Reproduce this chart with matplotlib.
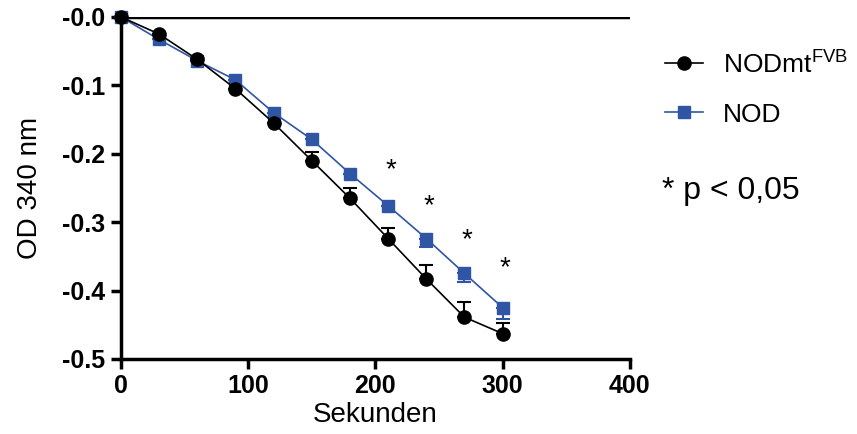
import numpy as np
import matplotlib.pyplot as plt

plt.rcParams['font.family'] = ['Liberation Sans', 'DejaVu Sans']

sek = [0, 30, 60, 90, 120, 150, 180, 210, 240, 270, 300]
od_mt = [0.0, -0.025, -0.062, -0.105, -0.155, -0.21, -0.265, -0.324, -0.383, -0.439, -0.463]
err_mt = [0, 0, 0, 0, 0, 0.012, 0.015, 0.016, 0.02, 0.022, 0.016]
od_nod = [0.0, -0.033, -0.064, -0.092, -0.14, -0.179, -0.229, -0.276, -0.324, -0.375, -0.425]
err_nod = [0, 0, 0, 0, 0, 0, 0, 0, 0.012, 0.013, 0.016]
sig_x = [210, 240, 270, 300]
sig_y = [-0.224, -0.276, -0.327, -0.368]

blue = '#2F55A4'

fig = plt.figure(figsize=(8.57, 4.34), dpi=100)
ax = fig.add_axes([0.141, 0.173, 0.594, 0.788])

# fehlerbalken: schwarz nach oben, blau nach unten
ax.errorbar(sek, od_mt, yerr=[np.zeros(len(err_mt)), err_mt], fmt='none',
            ecolor='black', elinewidth=1.5, capsize=5, capthick=1.5, clip_on=False)
ax.errorbar(sek, od_nod, yerr=[err_nod, np.zeros(len(err_nod))], fmt='none',
            ecolor=blue, elinewidth=1.5, capsize=5, capthick=1.5, clip_on=False)

ax.plot(sek, od_mt, '-o', color='black', lw=1.2, ms=9.5, clip_on=False, zorder=4,
        label='NODmt$^{\\mathregular{FVB}}$')
ax.plot(sek, od_nod, '-s', color=blue, mfc=blue, mec=blue, lw=1.2, ms=9,
        clip_on=False, zorder=3, label='NOD')

ax.axhline(0, color='black', lw=2.5, zorder=1)

for x, y in zip(sig_x, sig_y):
    ax.text(x + 2, y, '*', fontsize=20, ha='center', va='center')

ax.set_xlim(0, 400)
ax.set_ylim(-0.5, 0)
ax.set_xticks([0, 100, 200, 300, 400])
ax.set_yticks([0, -0.1, -0.2, -0.3, -0.4, -0.5])
ax.set_yticklabels(['-0.0', '-0.1', '-0.2', '-0.3', '-0.4', '-0.5'])

for s in ['top', 'right']:
    ax.spines[s].set_visible(False)
for s in ['left', 'bottom']:
    ax.spines[s].set_linewidth(2.5)
ax.tick_params(width=2.5, length=7, labelsize=18, pad=4)
for lab in ax.get_xticklabels() + ax.get_yticklabels():
    lab.set_fontweight('bold')

ax.set_xlabel('Sekunden', fontsize=20, labelpad=3)
ax.set_ylabel('OD 340 nm', fontsize=20, labelpad=14)

ax.legend(loc='upper left', bbox_to_anchor=(1.048, 0.935), frameon=False,
          fontsize=19, handlelength=1.45, labelspacing=0.95, handletextpad=0.75,
          borderaxespad=0)
fig.text(0.772, 0.56, '* p < 0,05', fontsize=23, va='center')

fig.savefig('out.png', dpi=100)
